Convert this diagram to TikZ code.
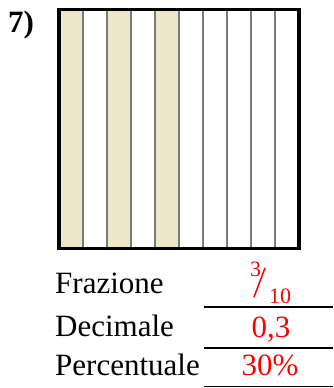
\documentclass[tikz,border=0pt]{standalone}
\usepackage{fontspec}
\setmainfont{Liberation Serif}
\definecolor{strip}{HTML}{EDE6C8}
\definecolor{divline}{HTML}{7A7A7A}
\begin{document}
\begin{tikzpicture}[x=1pt, y=-1pt,
    lbl/.style={anchor=base west, inner sep=0pt, font=\fontsize{31}{31}\selectfont},
    val/.style={anchor=base, inner sep=0pt, text=red, font=\fontsize{31}{31}\selectfont},
    small/.style={inner sep=0pt, text=red, font=\fontsize{22}{22}\selectfont},
    answer/.style={line width=1.3pt}]
    \useasboundingbox (0,0) rectangle (333,388);
    % Exercise number
    \node[lbl, font=\bfseries\fontsize{31}{31}\selectfont] (ex) at (8,32) {7)};

    % Shaded strips (3 out of 10)
    \foreach \i in {0,2,4}
        \fill[strip] (59+24*\i, 9.5) rectangle ++(24, 239);
    % Dividing lines
    \foreach \i in {1,...,9}
        \draw[divline, line width=1.6pt] (59+24*\i, 9.5) -- ++(0, 239);
    % Outer square
    \draw[line width=3.5pt] (59, 9.5) rectangle (299, 248.5);

    % Labels
    \node[lbl] (fraz) at (55,293) {Frazione};
    \node[lbl] (deci) at (55,336) {Decimale};
    \node[lbl] (perc) at (55,375.5) {Percentuale};

    % Answer lines
    \coordinate (l1a) at (204,307);   \coordinate (l1b) at (333,307);
    \coordinate (l2a) at (204,348);   \coordinate (l2b) at (333,348);
    \coordinate (l3a) at (204,386.7); \coordinate (l3b) at (333,386.7);
    \draw[answer] (l1a) -- (l1b);
    \draw[answer] (l2a) -- (l2b);
    \draw[answer] (l3a) -- (l3b);

    % Answers
    \node[small] (num) at (255.5,269.5) {3};
    \node[small] (den) at (280,296.5) {10};
    \coordinate (sl1) at (254,297);
    \coordinate (sl2) at (265,268);
    \draw[red, line width=1.5pt] (sl1) -- (sl2);
    \node[val] (dec) at (271,337) {0,3};
    \node[val] (pct) at (270,375.5) {30\%};
\end{tikzpicture}
\end{document}
